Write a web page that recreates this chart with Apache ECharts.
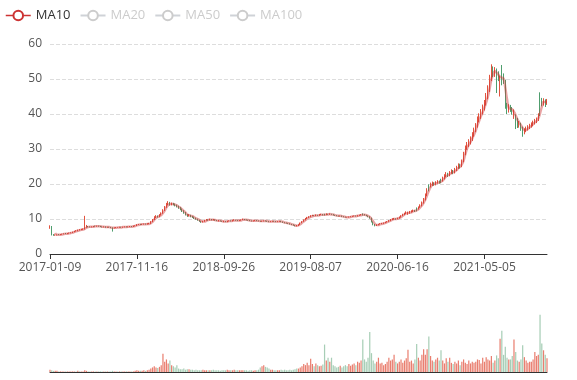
<!DOCTYPE html>
<html><head><meta charset="utf-8">
<script src="https://cdn.jsdelivr.net/npm/echarts@6/dist/echarts.min.js"></script>
<style>html,body{margin:0;padding:0;background:#fff}#c{width:577px;height:380px}</style>
</head><body><div id="c"></div><script>
const tickDates = ['2017-01-09','2017-11-16','2018-09-26','2019-08-07','2020-06-16','2021-05-05','2021-12-24'];
const tickStep = 50;
const legendNames = ['MA10','MA20','MA50','MA100'];
// [open, close, low, high]
const candles = [
[7.4,8.0,7.2,8.2],[7.9,5.6,5.3,8.0],[5.6,5.4,5.2,5.7],[5.3,5.4,5.2,5.6],[5.4,5.5,5.3,5.6],[5.6,5.5,5.4,5.7],[5.5,5.6,5.4,5.7],[5.6,5.7,5.5,5.8],[5.7,5.8,5.6,5.9],[5.9,5.8,5.7,6.0],
[5.8,5.9,5.7,6.0],[5.9,6.0,5.8,6.1],[6.0,6.1,5.9,6.2],[6.1,6.3,6.0,6.4],[6.3,6.5,6.2,6.6],[6.6,6.6,6.4,6.8],[6.6,6.8,6.5,7.0],[6.9,6.9,6.7,7.1],[6.9,7.0,6.8,7.2],[7.0,7.1,6.9,7.3],
[7.1,7.6,7.0,10.9],[7.7,7.9,7.5,8.3],[7.9,7.8,7.6,8.0],[7.8,7.7,7.6,7.9],[7.7,7.8,7.6,7.9],[7.8,7.9,7.7,8.0],[8.0,7.9,7.8,8.1],[7.9,8.0,7.8,8.1],[8.0,7.9,7.8,8.1],[7.9,7.8,7.7,8.0],
[7.8,7.7,7.6,7.9],[7.7,7.8,7.6,7.9],[7.8,7.6,7.5,7.9],[7.6,7.7,7.5,7.8],[7.7,7.6,7.5,7.8],[7.6,7.5,7.4,7.7],[7.5,7.4,6.4,7.6],[7.4,7.5,7.3,7.6],[7.5,7.6,7.4,7.7],[7.6,7.6,7.5,7.7],
[7.6,7.7,7.5,7.8],[7.7,7.6,7.5,7.8],[7.6,7.7,7.5,7.8],[7.7,7.8,7.6,7.9],[7.8,7.7,7.6,7.9],[7.7,7.8,7.6,7.9],[7.8,7.9,7.7,8.0],[7.9,7.8,7.7,8.0],[7.8,8.0,7.7,8.1],[8.0,8.1,7.9,8.2],
[8.1,8.4,8.0,8.5],[8.4,8.5,8.3,8.6],[8.5,8.4,8.3,8.6],[8.4,8.5,8.3,8.6],[8.5,8.6,8.4,8.7],[8.6,8.5,8.4,8.7],[8.5,8.6,8.4,8.8],[8.6,8.7,8.5,8.9],[8.7,9.2,8.6,9.4],[9.2,9.8,9.1,10.0],
[9.8,10.5,9.7,10.8],[10.5,10.8,10.3,11.1],[10.8,10.6,10.4,11.0],[10.6,11.2,10.5,11.4],[11.2,11.6,11.0,11.9],[11.6,12.5,11.5,12.8],[12.5,13.4,12.3,13.7],[13.4,14.2,13.2,14.6],[14.2,14.6,13.9,15.1],[14.6,14.1,13.8,14.9],
[14.1,14.4,13.9,14.7],[14.4,14.2,13.9,14.6],[14.2,13.9,13.6,14.4],[13.9,13.6,13.3,14.1],[13.6,13.2,12.9,13.8],[13.2,12.8,12.5,13.4],[12.8,12.3,12.0,13.0],[12.3,11.8,11.5,12.5],[11.8,11.2,11.0,12.0],[11.2,10.9,10.6,11.4],
[10.9,11.1,10.7,11.4],[11.1,10.7,10.5,11.2],[10.7,10.5,10.3,10.9],[10.5,10.2,10.0,10.7],[10.2,10.0,9.8,10.4],[10.0,9.7,9.5,10.1],[9.7,9.4,9.2,9.8],[9.4,9.1,8.9,9.5],[9.1,9.3,9.0,9.5],[9.3,9.6,9.2,9.8],
[9.6,9.8,9.5,10.0],[9.8,9.7,9.5,9.9],[9.7,9.9,9.6,10.1],[9.9,9.8,9.6,10.0],[9.8,9.8,9.6,10.0],[9.8,9.6,9.5,9.9],[9.6,9.5,9.4,9.7],[9.5,9.5,9.3,9.7],[9.5,9.4,9.3,9.6],[9.4,9.3,9.2,9.5],
[9.3,9.3,9.1,9.5],[9.3,9.2,9.1,9.4],[9.2,9.4,9.1,9.5],[9.4,9.5,9.3,9.6],[9.5,9.4,9.3,9.6],[9.4,9.6,9.3,9.7],[9.6,9.7,9.5,9.9],[9.7,9.6,9.5,9.8],[9.6,9.5,9.4,9.7],[9.5,9.6,9.4,9.7],
[9.6,9.8,9.5,9.9],[9.8,9.9,9.7,10.1],[9.9,9.8,9.7,10.0],[9.8,9.7,9.6,9.9],[9.7,9.6,9.5,9.8],[9.6,9.5,9.4,9.7],[9.5,9.4,9.3,9.6],[9.4,9.5,9.3,9.6],[9.5,9.6,9.4,9.7],[9.6,9.5,9.4,9.7],
[9.5,9.4,9.3,9.6],[9.4,9.3,9.2,9.5],[9.3,9.4,9.2,9.5],[9.4,9.5,9.3,9.6],[9.5,9.4,9.3,9.6],[9.4,9.3,9.2,9.5],[9.3,9.2,9.1,9.4],[9.2,9.3,9.1,9.4],[9.3,9.4,9.2,9.5],[9.4,9.3,9.2,9.5],
[9.3,9.2,9.1,9.4],[9.2,9.3,9.1,9.4],[9.3,9.4,9.2,9.5],[9.4,9.2,9.1,9.5],[9.2,9.0,8.9,9.3],[9.0,8.9,8.8,9.1],[8.9,8.8,8.7,9.0],[8.8,8.7,8.6,8.9],[8.7,8.5,8.4,8.8],[8.5,8.4,8.3,8.6],
[8.4,8.2,8.1,8.5],[8.2,8.1,7.9,8.3],[8.1,8.1,7.9,8.3],[8.1,8.4,8.0,8.5],[8.4,8.9,8.3,9.0],[8.9,9.3,8.8,9.4],[9.3,9.7,9.2,9.9],[9.7,10.1,9.6,10.3],[10.1,10.4,10.0,10.6],[10.4,10.6,10.3,10.8],
[10.6,10.9,10.5,11.1],[10.9,11.0,10.8,11.2],[11.0,10.9,10.8,11.1],[10.9,11.1,10.8,11.3],[11.1,11.0,10.9,11.2],[11.0,11.2,10.9,11.4],[11.2,11.3,11.1,11.5],[11.3,11.1,11.0,11.4],[11.3,11.2,11.0,11.5],[11.2,11.4,11.1,11.6],
[11.4,11.3,11.2,11.5],[11.3,11.4,11.2,11.6],[11.4,11.3,11.2,11.5],[11.3,11.1,11.0,11.4],[11.1,11.0,10.9,11.2],[11.0,10.9,10.8,11.1],[10.9,10.8,10.7,11.0],[10.8,10.9,10.7,11.0],[10.9,10.7,10.6,11.0],[10.7,10.6,10.5,10.8],
[10.6,10.5,10.4,10.7],[10.5,10.5,10.4,10.6],[10.5,10.6,10.4,10.7],[10.6,10.7,10.5,10.8],[10.7,10.8,10.6,10.9],[10.8,10.9,10.7,11.0],[10.9,10.8,10.7,11.0],[10.8,11.0,10.7,11.1],[11.0,11.1,10.9,11.2],[11.1,11.2,11.0,11.4],
[11.5,11.3,11.0,11.6],[11.3,11.1,11.0,11.4],[11.1,10.9,10.8,11.2],[10.9,10.6,10.5,11.0],[10.6,10.3,10.1,10.8],[10.3,9.2,9.0,10.4],[9.2,8.5,8.2,9.3],[8.5,8.1,7.9,8.6],[8.1,8.3,8.0,8.5],[8.3,8.5,8.2,8.6],
[8.5,8.6,8.4,8.8],[8.6,8.7,8.5,8.9],[8.7,8.9,8.6,9.0],[8.9,9.1,8.8,9.2],[9.1,9.3,9.0,9.4],[9.3,9.5,9.2,9.7],[9.5,9.8,9.4,10.0],[9.8,10.0,9.7,10.2],[10.0,10.1,9.8,10.3],[10.1,10.0,9.8,10.2],
[10.0,10.2,9.9,10.4],[10.2,10.5,10.1,10.7],[10.5,10.9,10.4,11.1],[10.9,11.3,10.8,11.5],[11.3,11.6,11.1,11.8],[11.6,11.9,11.4,12.2],[11.3,11.6,11.2,12.1],[11.6,12.0,11.5,12.3],[12.0,12.2,11.8,12.5],[12.2,12.4,12.0,12.7],
[12.4,12.3,12.0,12.6],[13.0,12.8,12.2,13.3],[12.8,13.3,12.7,13.6],[13.3,13.8,13.2,14.2],[13.8,14.6,13.6,15.0],[14.6,15.5,14.4,16.0],[15.5,16.8,15.3,17.3],[16.8,18.2,16.5,18.8],[19.6,19.3,17.9,19.9],[19.3,19.8,19.0,20.4],
[19.8,20.2,19.4,20.7],[20.2,19.9,19.5,20.5],[19.9,20.4,19.6,20.8],[20.4,20.6,20.1,21.1],[20.6,20.5,20.1,21.0],[21.2,21.0,20.2,21.5],[21.0,21.6,20.7,22.1],[21.6,22.2,21.3,22.8],[22.2,22.8,21.9,23.4],[22.8,22.5,22.0,23.2],
[22.5,23.2,22.2,23.7],[23.2,23.6,22.9,24.2],[23.6,23.3,22.8,24.0],[23.3,24.0,23.0,24.6],[24.0,24.6,23.7,25.2],[24.6,25.3,24.3,25.9],[25.3,25.0,24.4,25.8],[25.0,26.5,24.8,27.0],[26.5,28.6,26.2,29.2],[28.6,30.4,28.2,31.0],
[30.4,31.2,29.8,32.0],[31.2,32.0,30.6,32.8],[32.0,32.8,31.3,33.6],[32.8,34.0,32.3,34.8],[34.0,35.3,33.5,36.1],[35.3,36.6,34.8,37.4],[36.6,38.5,36.1,39.3],[38.5,39.2,37.6,40.2],[39.2,40.5,38.6,41.4],[40.5,41.8,39.9,42.7],
[41.8,43.0,41.0,44.0],[43.0,45.0,42.4,46.0],[45.0,47.0,44.2,48.2],[47.0,50.0,46.3,51.2],[50.0,52.8,49.4,54.2],[52.8,51.6,50.5,53.6],[51.6,52.2,50.6,53.4],[52.2,51.4,46.0,53.0],[51.4,50.2,49.4,52.2],[49.6,50.4,45.0,51.0],
[52.0,50.9,48.2,54.0],[50.9,49.4,48.6,51.6],[49.4,42.3,41.5,49.8],[42.3,41.0,40.0,43.2],[41.0,42.0,40.4,42.8],[42.0,41.4,40.6,42.6],[41.4,40.9,39.8,42.0],[39.0,39.5,38.6,41.3],[39.5,38.5,35.7,39.9],[38.5,37.0,36.0,38.9],
[37.0,37.1,36.1,38.0],[37.1,36.0,35.2,37.5],[36.0,35.0,33.5,36.4],[35.0,35.2,34.2,35.9],[35.2,35.8,34.8,36.4],[35.8,36.2,35.3,36.8],[36.2,36.6,35.7,37.2],[36.6,37.0,36.1,37.6],[37.0,37.5,36.5,38.1],[37.5,38.0,37.0,38.6],
[38.0,38.4,37.4,39.0],[38.4,39.5,38.0,40.2],[45.6,43.8,39.4,46.2],[43.8,43.0,42.2,44.6],[43.0,43.8,42.4,44.5],[43.8,43.2,42.0,44.2],[43.2,43.6,42.6,44.3]
];
const volumes = [
4,3,2,2,2,1,1,1,1,1,
1,1,1,1,1,1,2,1,1,1,
3,2,1,1,1,1,1,1,1,1,
1,1,1,1,1,1,2,1,1,1,
1,1,1,1,1,1,1,1,1,2,
3,2,2,2,3,2,3,4,6,8,
10,8,7,9,12,32,18,22,15,20,
12,10,8,12,6,5,5,6,4,5,
5,4,4,3,4,3,3,3,4,3,
3,3,3,3,4,3,3,3,2,3,
3,3,4,3,3,3,4,3,3,3,
3,3,3,3,2,3,3,2,3,3,
4,8,10,12,9,8,6,4,4,3,
3,3,3,4,3,4,3,3,4,3,
4,5,6,6,8,10,14,12,16,12,
23,14,10,15,12,10,11,13,48,20,
25,18,25,12,10,8,9,11,8,10,
12,10,14,11,13,15,12,18,16,20,
57,22,18,25,70,33,20,15,18,25,
15,16,12,14,18,25,20,22,30,18,
15,18,22,16,20,24,39,18,20,15,
22,49,25,20,30,40,30,40,62,28,
20,18,22,25,20,38,20,15,24,18,
25,16,14,18,15,20,12,18,22,16,
14,20,15,18,16,18,22,21,15,25,
18,26,22,20,28,16,20,29,24,58,
72,30,44,25,22,22,28,57,35,20,
18,22,47,26,20,16,18,18,22,35,
28,30,100,50,38,30,24
];
const ma10 = ['-','-','-',
6.0,5.5,5.5,5.5,5.6,5.7,5.8,5.8,5.9,6.0,6.1,6.3,6.5,6.6,6.8,6.9,7.0,
7.2,7.5,7.7,7.8,7.8,7.8,7.9,7.9,7.9,7.9,7.8,7.8,7.7,7.7,7.7,7.6,7.5,7.5,7.5,7.6,
7.6,7.6,7.7,7.7,7.7,7.8,7.8,7.8,7.9,8.0,8.2,8.3,8.4,8.5,8.5,8.5,8.6,8.6,8.8,9.2,
9.8,10.3,10.6,10.8,11.1,11.7,12.4,13.3,14.0,14.3,14.3,14.3,14.1,13.9,13.5,13.2,12.7,12.3,11.8,11.3,
11.1,10.9,10.8,10.5,10.2,10.0,9.7,9.4,9.3,9.3,9.5,9.7,9.8,9.8,9.8,9.7,9.6,9.5,9.5,9.4,
9.3,9.3,9.3,9.4,9.4,9.5,9.6,9.6,9.6,9.6,9.6,9.8,9.8,9.8,9.7,9.6,9.5,9.5,9.5,9.5,
9.5,9.4,9.4,9.4,9.4,9.4,9.3,9.3,9.3,9.3,9.3,9.3,9.3,9.3,9.2,9.0,8.9,8.8,8.7,8.5,
8.4,8.2,8.1,8.2,8.5,8.9,9.3,9.7,10.1,10.4,10.6,10.8,10.9,11.0,11.0,11.1,11.2,11.2,11.2,11.3,
11.3,11.4,11.3,11.3,11.1,11.0,10.9,10.9,10.8,10.7,10.6,10.5,10.5,10.6,10.7,10.8,10.8,10.9,11.0,11.1,
11.2,11.2,11.1,10.9,10.6,10.0,9.3,8.6,8.3,8.3,8.5,8.6,8.7,8.9,9.1,9.3,9.5,9.8,10.0,10.0,
10.1,10.3,10.5,10.9,11.3,11.6,11.7,11.8,11.9,12.2,12.3,12.5,12.8,13.3,13.9,14.6,15.6,16.8,18.1,19.1,
19.8,20.0,20.2,20.3,20.5,20.7,21.0,21.6,22.2,22.5,22.8,23.1,23.4,23.6,24.0,24.6,25.0,25.6,26.7,28.5,
30.1,31.2,32.0,33.0,34.1,35.3,36.8,38.1,39.4,40.5,41.8,43.3,45.0,47.3,49.9,51.4,52.2,51.8,51.3,50.6,
50.4,50.1,47.5,44.2,41.8,41.5,41.3,40.6,39.6,38.4,37.6,36.8,36.0,35.5,35.4,35.8,36.2,36.6,37.1,37.6,
38.0,38.7,40.2,42.0,43.4,43.4,43.4
];

const dates = [];
for (let k = 0; k < tickDates.length - 1; k++) {
  const a = Date.parse(tickDates[k]), b = Date.parse(tickDates[k + 1]);
  const steps = (k === tickDates.length - 2) ? candles.length - 1 - k * tickStep : tickStep;
  for (let j = 0; j < steps; j++) {
    dates.push(new Date(a + Math.round(j * (b - a) / steps / 864e5) * 864e5).toISOString().slice(0, 10));
  }
}
dates.push(tickDates[tickDates.length - 1]);

const UP = '#e2533f', DOWN = '#4f9e6e';
const volData = volumes.map((v, i) => ({
  value: v,
  itemStyle: { color: candles[i][1] > candles[i][0] ? 'rgba(226,83,63,0.75)' : 'rgba(79,158,110,0.5)' }
}));

const FONT = '"Open Sans", sans-serif';
const chart = echarts.init(document.getElementById('c'), null, { renderer: 'canvas' });
chart.setOption({
  animation: false,
  legend: {
    data: legendNames, left: 0, top: 4, itemGap: 9, itemWidth: 25, itemHeight: 12,
    selected: { MA20: false, MA50: false, MA100: false },
    itemStyle: { borderWidth: 1.2 },
    lineStyle: { width: 1.5, opacity: 1 },
    textStyle: { fontFamily: FONT, fontSize: 13, color: '#333' },
    inactiveColor: '#ccc', inactiveBorderColor: '#ccc'
  },
  grid: [
    { left: 50, right: 30, top: 44, height: 210 },
    { left: 50, right: 30, top: 308, height: 64 }
  ],
  xAxis: [
    { type: 'category', data: dates, boundaryGap: false,
      axisLine: { lineStyle: { color: '#333' } },
      axisTick: { show: true, lineStyle: { color: '#333' } },
      axisLabel: { interval: tickStep - 1, color: '#555', fontFamily: FONT, fontSize: 12 },
      splitLine: { show: false } },
    { type: 'category', gridIndex: 1, data: dates, boundaryGap: false,
      axisLine: { lineStyle: { color: '#333' } },
      axisTick: { show: false }, axisLabel: { show: false }, splitLine: { show: false } }
  ],
  yAxis: [
    { type: 'value', min: 0, max: 60, interval: 10,
      axisLine: { show: false }, axisTick: { show: false },
      axisLabel: { color: '#555', fontFamily: FONT, fontSize: 12 },
      splitLine: { lineStyle: { type: 'dashed', color: '#ddd' } } },
    { type: 'value', gridIndex: 1, min: 0, max: 112, show: false, splitLine: { show: false } }
  ],
  series: [
    { name: 'K', type: 'candlestick', data: candles, barMaxWidth: 2,
      itemStyle: { color: UP, color0: DOWN, borderColor: UP, borderColor0: DOWN, borderWidth: 1 } },
    { name: 'MA10', type: 'line', data: ma10, smooth: true, showSymbol: false, color: '#cc3333',
      lineStyle: { width: 2.5, opacity: 0.45 } },
    { name: 'MA20', type: 'line', data: [], smooth: true, showSymbol: false, color: '#2f4554', lineStyle: { opacity: 0.5 } },
    { name: 'MA50', type: 'line', data: [], smooth: true, showSymbol: false, color: '#61a0a8', lineStyle: { opacity: 0.5 } },
    { name: 'MA100', type: 'line', data: [], smooth: true, showSymbol: false, color: '#d48265', lineStyle: { opacity: 0.5 } },
    { name: 'Volume', type: 'bar', xAxisIndex: 1, yAxisIndex: 1, data: volData, barWidth: '70%' }
  ]
});
</script></body></html>
